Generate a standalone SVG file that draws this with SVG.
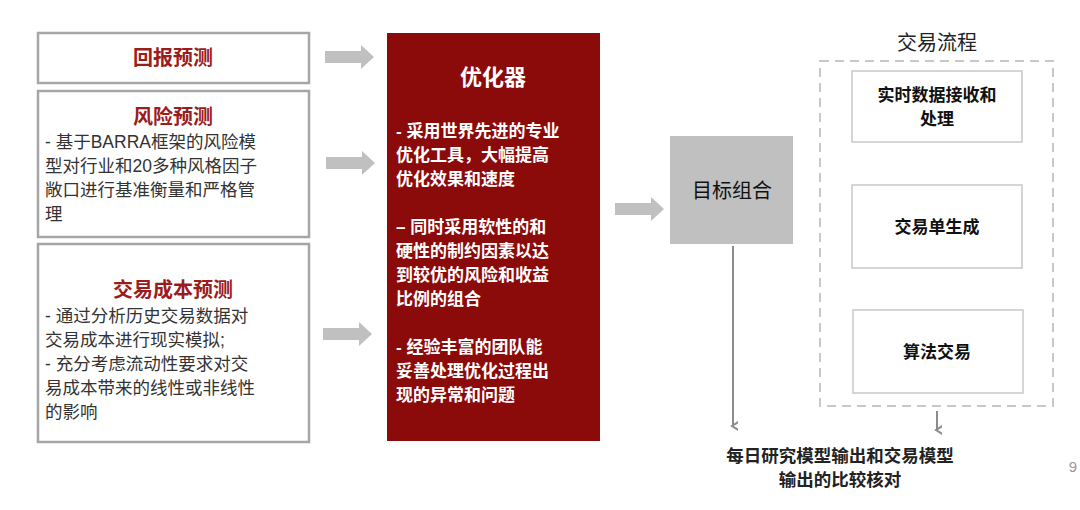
<svg xmlns="http://www.w3.org/2000/svg" width="1080" height="510" viewBox="0 0 1080 510">
<style>
text{font-family:"Liberation Sans","Noto Sans CJK SC",sans-serif}
.lb{fill:#fff;stroke:#a6a6a6;stroke-width:2.5}
.ttl{font-size:20px;font-weight:bold;fill:#9b1c1c;text-anchor:middle}
.bd{font-size:17.5px;fill:#333}
.wt{font-size:17px;font-weight:bold;fill:#fff}
.ib{fill:#fff;stroke:#c8c8c8;stroke-width:1.5}
.it{font-size:17px;font-weight:bold;fill:#111;text-anchor:middle}
.ba{fill:#c0c0c0}
</style>
<defs>
<marker id="ah" markerWidth="10" markerHeight="10" refX="5" refY="5" orient="auto" markerUnits="userSpaceOnUse"><path d="M0,0 L5,8 L10,0" fill="none" stroke="#8c8c8c" stroke-width="2" transform="translate(0,-2)"/></marker>
</defs>
<rect width="1080" height="510" fill="#fff"/>
<g id="n1"><rect class="lb" x="38" y="33" width="271" height="50"/><text class="ttl" x="173" y="65">回报预测</text></g>
<g id="n2"><rect class="lb" x="38" y="91" width="271" height="146"/><text class="ttl" x="173" y="124">风险预测</text>
<text class="bd" x="45" y="148">- 基于BARRA框架的风险模</text><text class="bd" x="45" y="172">型对行业和20多种风格因子</text><text class="bd" x="45" y="196">敞口进行基准衡量和严格管</text><text class="bd" x="45" y="220">理</text></g>
<g id="n3"><rect class="lb" x="38" y="244" width="271" height="198"/><text class="ttl" x="173" y="297">交易成本预测</text>
<text class="bd" x="45" y="322">- 通过分析历史交易数据对</text><text class="bd" x="45" y="346">交易成本进行现实模拟;</text><text class="bd" x="45" y="370">- 充分考虑流动性要求对交</text><text class="bd" x="45" y="394">易成本带来的线性或非线性</text><text class="bd" x="45" y="418">的影响</text></g>
<g id="n4"><rect x="387" y="33" width="213" height="408" fill="#8b0a0a"/><text x="493" y="85" font-size="22" font-weight="bold" fill="#fff" text-anchor="middle">优化器</text>
<text class="wt" x="396" y="137">- 采用世界先进的专业</text><text class="wt" x="396" y="161">优化工具，大幅提高</text><text class="wt" x="396" y="185">优化效果和速度</text>
<text class="wt" x="396" y="233">– 同时采用软性的和</text><text class="wt" x="396" y="257">硬性的制约因素以达</text><text class="wt" x="396" y="281">到较优的风险和收益</text><text class="wt" x="396" y="305">比例的组合</text>
<text class="wt" x="396" y="353">- 经验丰富的团队能</text><text class="wt" x="396" y="377">妥善处理优化过程出</text><text class="wt" x="396" y="401">现的异常和问题</text></g>
<g id="n5"><rect x="670" y="136" width="123" height="108" fill="#c0c0c0"/><text x="732" y="198" font-size="20" fill="#111" text-anchor="middle">目标组合</text></g>
<g id="n6"><text x="937" y="50" font-size="20" fill="#222" text-anchor="middle">交易流程</text><rect x="820" y="61" width="233" height="345" fill="none" stroke="#c8c8c8" stroke-width="2" stroke-dasharray="9,6"/></g>
<g id="n7"><rect class="ib" x="852" y="71" width="170" height="71"/><text class="it" x="937" y="101">实时数据接收和</text><text class="it" x="937" y="125">处理</text></g>
<g id="n8"><rect class="ib" x="852" y="185" width="170" height="83"/><text class="it" x="937" y="233">交易单生成</text></g>
<g id="n9"><rect class="ib" x="853" y="310" width="170" height="83"/><text class="it" x="937" y="358">算法交易</text></g>
<g id="n10"><text x="840" y="462" font-size="17.5" font-weight="bold" fill="#222" text-anchor="middle">每日研究模型输出和交易模型</text><text x="840" y="486" font-size="17.5" font-weight="bold" fill="#222" text-anchor="middle">输出的比较核对</text></g>
<text x="1073" y="472" font-size="15" fill="#999" text-anchor="middle">9</text>
<g id="connectors">
<path class="ba" d="M325,51 H361 V45 L374,57 L361,69 V63 H325 Z"/>
<path class="ba" d="M326,157 H362 V151 L375,163 L362,175 V169 H326 Z"/>
<path class="ba" d="M323,328 H359 V322 L372,334 L359,346 V340 H323 Z"/>
<path class="ba" d="M615,203 H651 V197 L664,209 L651,221 V215 H615 Z"/>
<line x1="733" y1="246" x2="733" y2="426" stroke="#8c8c8c" stroke-width="2" marker-end="url(#ah)"/>
<line x1="937" y1="411" x2="937" y2="430" stroke="#8c8c8c" stroke-width="2" marker-end="url(#ah)"/>
</g>
</svg>
